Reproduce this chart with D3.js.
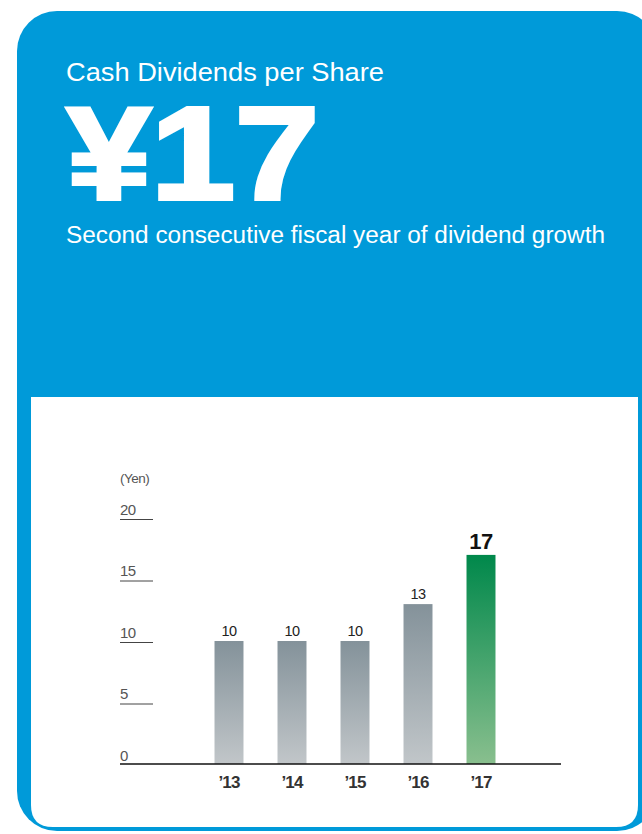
<!DOCTYPE html>
<html><head><meta charset="utf-8">
<script src="https://cdn.jsdelivr.net/npm/d3@7"></script>
<style>html,body{margin:0;padding:0;background:#fff;}svg{display:block;}</style>
</head><body>
<svg id="c" width="642" height="834"></svg>
<script>
const categories = ["’13","’14","’15","’16","’17"];
const dividends = [10,10,10,13,17];
const yTicks = [0,5,10,15,20];
const title = "Cash Dividends per Share";
const headline = "¥17";
const subtitle = "Second consecutive fiscal year of dividend growth";
const unitLabel = "(Yen)";

const svg = d3.select("#c");
const blue = "#009ad9";
const font = "'Liberation Sans', Arial, sans-serif";
const defs = svg.append("defs");
const gGray = defs.append("linearGradient").attr("id","gGray").attr("x1",0).attr("y1",0).attr("x2",0).attr("y2",1);
gGray.append("stop").attr("offset","0%").attr("stop-color","#84929a");
gGray.append("stop").attr("offset","100%").attr("stop-color","#c1c6c9");
const gGreen = defs.append("linearGradient").attr("id","gGreen").attr("x1",0).attr("y1",0).attr("x2",0).attr("y2",1);
gGreen.append("stop").attr("offset","0%").attr("stop-color","#00884b");
gGreen.append("stop").attr("offset","100%").attr("stop-color","#89bf8e");

// card
svg.append("rect").attr("x",17).attr("y",11).attr("width",640).attr("height",820).attr("rx",40).attr("fill",blue);
// white panel with rounded bottom corners
const px=31, py=397, pw=607, ph=430, r=22;
svg.append("path").attr("fill","#fff")
  .attr("d",`M${px},${py}H${px+pw}V${py+ph-r}Q${px+pw},${py+ph} ${px+pw-r},${py+ph}H${px+r}Q${px},${py+ph} ${px},${py+ph-r}Z`);

svg.append("text").attr("x",66).attr("y",81).attr("fill","#fff")
  .attr("font-family",font).attr("font-size",25)
  .attr("textLength",318).attr("lengthAdjust","spacingAndGlyphs").text(title);
svg.append("text").attr("x",67).attr("y",199).attr("fill","#fff")
  .attr("stroke","#fff").attr("stroke-width",4).attr("stroke-linejoin","miter")
  .attr("font-family",font).attr("font-weight","bold").attr("font-size",132)
  .attr("textLength",252).attr("lengthAdjust","spacingAndGlyphs").text(headline);
svg.append("text").attr("x",66).attr("y",243).attr("fill","#fff")
  .attr("font-family",font).attr("font-size",23.5)
  .attr("textLength",539).attr("lengthAdjust","spacingAndGlyphs").text(subtitle);

// chart
const y = d3.scaleLinear().domain([0,20]).range([764,518]);
const x = d3.scaleBand().domain(categories).range([197.5,512.5]).paddingInner(0.54).paddingOuter(0.27);

svg.append("text").attr("x",120).attr("y",483).attr("fill","#555").attr("font-family",font).attr("font-size",13.5)
  .attr("letter-spacing",-0.5).text(unitLabel);

const tg = svg.append("g");
yTicks.forEach(t=>{
  tg.append("text").attr("x",120).attr("y",y(t)-3.5).attr("fill","#555").attr("font-family",font).attr("font-size",15)
    .attr("letter-spacing",-0.5).text(t);
  if(t>0) tg.append("line").attr("x1",120).attr("x2",153).attr("y1",y(t)+1.5).attr("y2",y(t)+1.5).attr("stroke","#444").attr("stroke-width",1);
});

svg.selectAll("rect.bar").data(dividends).join("rect").attr("class","bar")
  .attr("x",(d,i)=>x(categories[i])).attr("width",x.bandwidth())
  .attr("y",d=>y(d)).attr("height",d=>y(0)-y(d))
  .attr("fill",(d,i)=>i===categories.length-1?"url(#gGreen)":"url(#gGray)");

svg.selectAll("text.val").data(dividends).join("text").attr("class","val")
  .attr("x",(d,i)=>x(categories[i])+x.bandwidth()/2)
  .attr("y",(d,i)=>y(d)-(i===categories.length-1?6:5))
  .attr("text-anchor","middle").attr("fill",(d,i)=>i===categories.length-1?"#111":"#222")
  .attr("font-family",font)
  .attr("font-weight",(d,i)=>i===categories.length-1?"bold":"normal")
  .attr("font-size",(d,i)=>i===categories.length-1?22:14.5)
  .attr("letter-spacing",-0.5)
  .text(d=>d);

svg.append("line").attr("x1",120).attr("x2",561).attr("y1",y(0)).attr("y2",y(0)).attr("stroke","#111").attr("stroke-width",1.6);

svg.selectAll("text.cat").data(categories).join("text").attr("class","cat")
  .attr("x",d=>x(d)+x.bandwidth()/2).attr("y",788)
  .attr("text-anchor","middle").attr("fill","#333")
  .attr("font-family",font).attr("letter-spacing",-0.8)
  .attr("font-weight","bold").attr("font-size",17).text(d=>d);
</script>
</body></html>
